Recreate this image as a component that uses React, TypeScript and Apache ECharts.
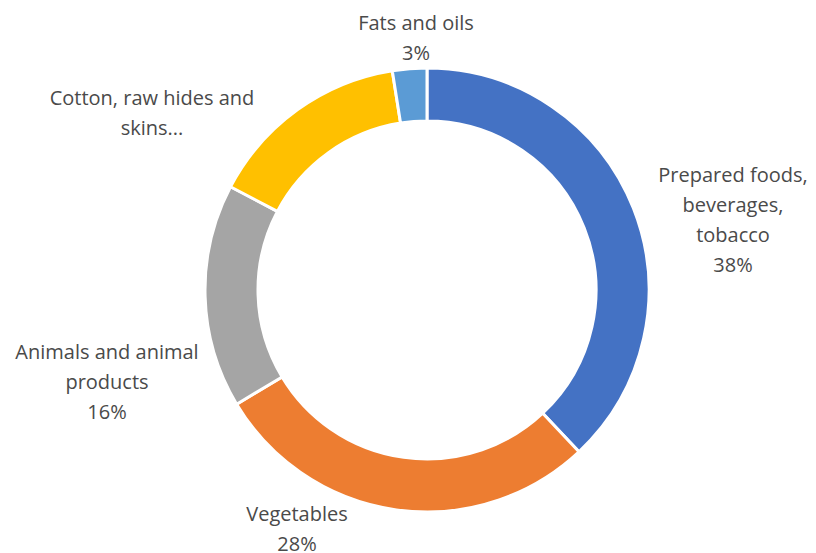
import React, { useEffect, useRef } from "react";
import * as echarts from "echarts";

const categories = [
  "Prepared foods,\nbeverages,\ntobacco",
  "Vegetables",
  "Animals and animal\nproducts",
  "Cotton, raw hides and\nskins...",
  "Fats and oils",
];
const values = [38.0, 28.4, 16.3, 14.8, 2.5];
const showPercent = [true, true, true, false, true];
const colors = ["#4472C4", "#ED7D31", "#A5A5A5", "#FFC000", "#5B9BD5"];
// label block centres (layout, not data)
const labelPos = [
  [733, 219],
  [297, 528],
  [107, 381],
  [152, 112],
  [416, 37],
];

export default function App() {
  const ref = useRef<HTMLDivElement>(null);
  useEffect(() => {
    document.body.style.margin = "0";
    const chart = echarts.init(ref.current!, null, { renderer: "svg" });
    chart.setOption({
      animation: false,
      backgroundColor: "#ffffff",
      series: [
        {
          type: "pie",
          center: [427, 290],
          radius: [169, 222],
          startAngle: 90,
          clockwise: true,
          avoidLabelOverlap: false,
          itemStyle: { borderColor: "#ffffff", borderWidth: 3 },
          label: {
            show: true,
            position: "outside",
            color: "#4a4a4a",
            fontFamily: "Open Sans",
            fontSize: 20,
            lineHeight: 30,
            align: "center",
            formatter: (p: any) =>
              showPercent[p.dataIndex]
                ? `${p.name}\n${Math.round(p.percent)}%`
                : p.name,
          },
          labelLine: { show: false },
          labelLayout: (p: any) => ({
            x: labelPos[p.dataIndex][0],
            y: labelPos[p.dataIndex][1],
            align: "center",
            verticalAlign: "middle",
          }),
          data: categories.map((c, i) => ({
            name: c,
            value: values[i],
            itemStyle: { color: colors[i] },
          })),
        },
      ],
    });
    return () => chart.dispose();
  }, []);
  return <div ref={ref} style={{ width: 816, height: 553 }} />;
}
